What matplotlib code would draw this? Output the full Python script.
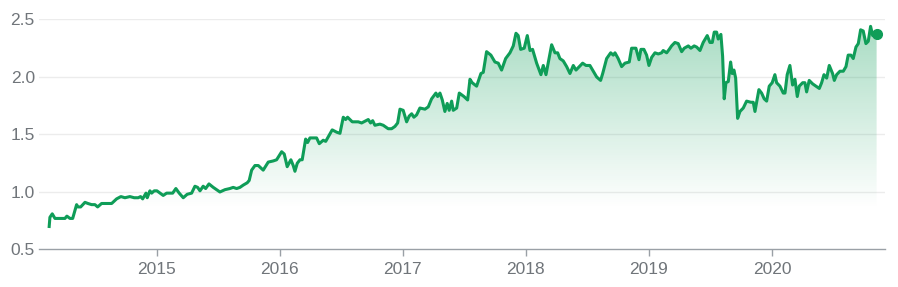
import numpy as np
import matplotlib
matplotlib.use("Agg")
import matplotlib.pyplot as plt
from matplotlib.colors import LinearSegmentedColormap
from matplotlib.patches import Polygon

plt.rcParams['font.family'] = ['Liberation Sans', 'DejaVu Sans']

# --- données (année décimale, valeur) ---
years = [
    2014.124, 2014.130, 2014.149, 2014.171, 2014.211, 2014.252, 2014.268, 2014.293, 2014.315, 2014.347,
    2014.358, 2014.380, 2014.415, 2014.439, 2014.469, 2014.496, 2014.518, 2014.550, 2014.604, 2014.632,
    2014.672, 2014.707, 2014.740, 2014.780, 2014.815, 2014.848, 2014.867, 2014.884, 2014.911, 2014.921,
    2014.943, 2014.957, 2014.978, 2015.000, 2015.051, 2015.079, 2015.128, 2015.154, 2015.181, 2015.214,
    2015.246, 2015.282, 2015.309, 2015.331, 2015.350, 2015.376, 2015.396, 2015.423, 2015.458, 2015.512,
    2015.553, 2015.593, 2015.620, 2015.648, 2015.675, 2015.702, 2015.734, 2015.750, 2015.770, 2015.797,
    2015.824, 2015.864, 2015.905, 2015.946, 2015.973, 2016.014, 2016.035, 2016.059, 2016.089, 2016.108,
    2016.122, 2016.141, 2016.163, 2016.181, 2016.209, 2016.225, 2016.244, 2016.298, 2016.320, 2016.352,
    2016.372, 2016.393, 2016.425, 2016.461, 2016.488, 2016.515, 2016.534, 2016.550, 2016.588, 2016.637,
    2016.664, 2016.718, 2016.737, 2016.754, 2016.772, 2016.813, 2016.840, 2016.880, 2016.908, 2016.935,
    2016.957, 2016.976, 2017.002, 2017.030, 2017.051, 2017.071, 2017.089, 2017.111, 2017.138, 2017.179,
    2017.206, 2017.233, 2017.268, 2017.282, 2017.301, 2017.320, 2017.341, 2017.360, 2017.376, 2017.396,
    2017.409, 2017.437, 2017.458, 2017.496, 2017.526, 2017.545, 2017.563, 2017.599, 2017.634, 2017.653,
    2017.680, 2017.715, 2017.748, 2017.775, 2017.802, 2017.835, 2017.870, 2017.897, 2017.919, 2017.937,
    2017.957, 2017.986, 2018.011, 2018.033, 2018.054, 2018.087, 2018.122, 2018.141, 2018.163, 2018.209,
    2018.236, 2018.258, 2018.276, 2018.303, 2018.331, 2018.358, 2018.385, 2018.407, 2018.425, 2018.461,
    2018.488, 2018.520, 2018.547, 2018.575, 2018.607, 2018.624, 2018.656, 2018.689, 2018.710, 2018.724,
    2018.750, 2018.778, 2018.805, 2018.840, 2018.859, 2018.894, 2018.919, 2018.935, 2018.959, 2018.981,
    2019.000, 2019.022, 2019.049, 2019.076, 2019.103, 2019.116, 2019.144, 2019.165, 2019.184, 2019.211,
    2019.238, 2019.266, 2019.287, 2019.320, 2019.341, 2019.368, 2019.388, 2019.415, 2019.441, 2019.474,
    2019.496, 2019.515, 2019.531, 2019.550, 2019.563, 2019.585, 2019.599, 2019.612, 2019.626, 2019.645,
    2019.664, 2019.677, 2019.691, 2019.705, 2019.721, 2019.740, 2019.767, 2019.794, 2019.829, 2019.848,
    2019.862, 2019.894, 2019.916, 2019.937, 2019.957, 2019.978, 2020.002, 2020.024, 2020.038, 2020.065,
    2020.092, 2020.106, 2020.124, 2020.146, 2020.168, 2020.187, 2020.206, 2020.222, 2020.250, 2020.268,
    2020.282, 2020.303, 2020.331, 2020.358, 2020.385, 2020.404, 2020.423, 2020.445, 2020.466, 2020.493,
    2020.507, 2020.526, 2020.553, 2020.580, 2020.602, 2020.620, 2020.642, 2020.661, 2020.683, 2020.702,
    2020.721, 2020.742, 2020.764, 2020.783, 2020.802, 2020.819, 2020.837, 2020.851,
]
values = [
    0.70, 0.78, 0.81, 0.77, 0.77, 0.77, 0.79, 0.77, 0.77, 0.89,
    0.87, 0.87, 0.91, 0.90, 0.89, 0.89, 0.87, 0.90, 0.90, 0.90,
    0.94, 0.96, 0.95, 0.96, 0.95, 0.95, 0.96, 0.94, 0.99, 0.95,
    1.01, 0.99, 1.01, 1.01, 0.97, 0.99, 0.99, 1.03, 0.99, 0.95,
    0.98, 0.99, 1.05, 1.04, 1.01, 1.05, 1.03, 1.07, 1.04, 1.00,
    1.02, 1.03, 1.04, 1.03, 1.04, 1.06, 1.08, 1.10, 1.19, 1.23,
    1.23, 1.19, 1.26, 1.27, 1.28, 1.35, 1.33, 1.22, 1.28, 1.23,
    1.18, 1.25, 1.28, 1.28, 1.46, 1.43, 1.47, 1.47, 1.42, 1.45,
    1.44, 1.48, 1.54, 1.52, 1.51, 1.65, 1.63, 1.65, 1.61, 1.61,
    1.60, 1.63, 1.60, 1.62, 1.58, 1.59, 1.58, 1.55, 1.55, 1.57,
    1.60, 1.72, 1.71, 1.61, 1.66, 1.68, 1.65, 1.67, 1.73, 1.72,
    1.74, 1.81, 1.86, 1.83, 1.86, 1.80, 1.70, 1.77, 1.71, 1.79,
    1.71, 1.73, 1.86, 1.83, 1.80, 1.98, 1.95, 1.92, 2.03, 2.04,
    2.22, 2.19, 2.13, 2.12, 2.06, 2.16, 2.21, 2.27, 2.38, 2.36,
    2.24, 2.25, 2.36, 2.23, 2.24, 2.12, 2.02, 2.10, 2.02, 2.28,
    2.21, 2.21, 2.16, 2.14, 2.09, 2.03, 2.10, 2.06, 2.08, 2.12,
    2.10, 2.10, 2.05, 2.00, 1.97, 2.03, 2.16, 2.21, 2.19, 2.21,
    2.16, 2.09, 2.12, 2.13, 2.25, 2.25, 2.15, 2.24, 2.24, 2.19,
    2.10, 2.17, 2.21, 2.20, 2.21, 2.23, 2.21, 2.24, 2.27, 2.30,
    2.29, 2.22, 2.25, 2.27, 2.25, 2.27, 2.26, 2.23, 2.30, 2.36,
    2.30, 2.30, 2.39, 2.39, 2.33, 2.37, 2.18, 1.81, 1.95, 1.96,
    2.13, 2.03, 2.06, 1.99, 1.64, 1.70, 1.73, 1.79, 1.78, 1.78,
    1.70, 1.89, 1.86, 1.81, 1.79, 1.92, 1.95, 2.02, 1.95, 1.92,
    1.86, 1.86, 2.02, 2.10, 1.93, 1.98, 1.83, 1.92, 1.95, 1.95,
    1.87, 1.97, 1.94, 1.92, 1.90, 1.95, 2.02, 1.99, 2.10, 2.03,
    1.97, 2.02, 2.05, 2.05, 2.09, 2.19, 2.19, 2.16, 2.26, 2.29,
    2.41, 2.40, 2.29, 2.31, 2.44, 2.36, 2.39, 2.37,
]
year_ticks = [2015, 2016, 2017, 2018, 2019, 2020]
y_ticks = [0.5, 1.0, 1.5, 2.0, 2.5]

green = '#0f9d58'

fig = plt.figure(figsize=(8.98, 2.87), dpi=100)
ax = fig.add_axes([0.0434, 0.1307, 0.9421, 0.8015])

x = np.array(years)
y = np.array(values)
ymin, ymax = 0.5, 2.5
ax.set_xlim(2014.041, 2020.919)
ax.set_ylim(ymin, ymax)

# dégradé sous la courbe
cmap = LinearSegmentedColormap.from_list('g', [(1, 1, 1, 0), (0.06, 0.62, 0.35, 0.0), (0.06, 0.62, 0.35, 0.38)])
grad = np.linspace(0, 1, 256).reshape(-1, 1)
grad = np.clip((grad - 0.18) / 0.82, 0, 1)
img = ax.imshow(grad, cmap=LinearSegmentedColormap.from_list('g2', [(0.06, 0.62, 0.35, 0.0), (0.06, 0.62, 0.35, 0.36)]),
                aspect='auto', origin='lower', extent=[x[0], x[-1], ymin, y.max()], zorder=1)
poly = Polygon(np.column_stack([np.r_[x[0], x, x[-1]], np.r_[ymin, y, ymin]]), closed=True,
               facecolor='none', edgecolor='none')
ax.add_patch(poly)
img.set_clip_path(poly)

for t in y_ticks[1:]:
    ax.axhline(t, color='#ececec', lw=1, zorder=0)

ax.plot(x, y, color=green, lw=2.2, zorder=3, solid_joinstyle='round')
ax.plot(x[-1], y[-1], 'o', color=green, ms=7, zorder=4, clip_on=False)

for s in ['top', 'right', 'left']:
    ax.spines[s].set_visible(False)
ax.spines['bottom'].set_color('#9aa0a6')
ax.spines['bottom'].set_linewidth(1)

ax.set_xticks(year_ticks)
ax.set_xticklabels([str(t) for t in year_ticks])
ax.set_yticks(y_ticks)
ax.set_yticklabels([f'{t:.1f}' for t in y_ticks])
ax.tick_params(axis='x', length=5, width=1, color='#9aa0a6', labelcolor='#70757a', labelsize=12.5, pad=4)
ax.tick_params(axis='y', length=0, labelcolor='#70757a', labelsize=12.5, pad=3)

fig.savefig('out.png', dpi=100)
